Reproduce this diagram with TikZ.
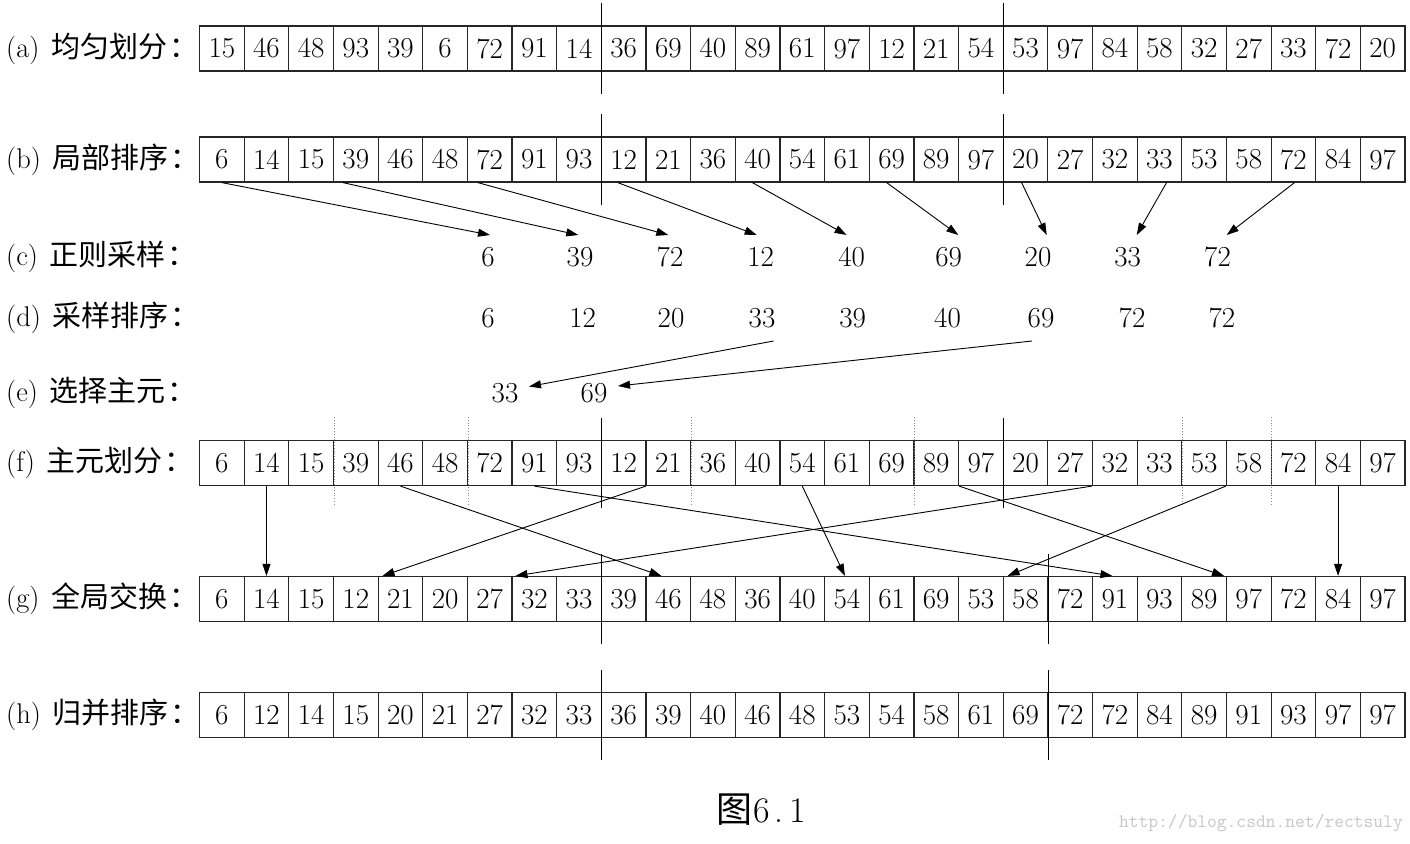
\documentclass[tikz,border=0pt]{standalone}
\usepackage{fontspec}
\newfontfamily\cjk{Noto Sans CJK SC}
\usetikzlibrary{arrows.meta}
\newcommand\mkrow[3]{\foreach \v [count=\i] in {#3} {\node[cellbox] (#1\i) at ({199.5+(\i-0.5)*44.65},#2) {\v};}}
\newcommand\lbltext[2]{(#1)\hspace{12pt}{\cjk\fontsize{29}{30}\selectfont #2\hspace{2pt}：}}
\begin{document}
\begin{tikzpicture}[x=1pt,y=-1pt,
  cellbox/.style={draw=black!85, line width=1.2pt, minimum width=44.65pt, minimum height=45pt, inner sep=0pt, font=\fontsize{29}{30}\selectfont},
  lab/.style={anchor=west, inner sep=0pt, font=\fontsize{28.5}{30}\selectfont},
  num/.style={inner sep=0pt, font=\fontsize{29}{30}\selectfont},
  arr/.style={-{Triangle[length=12pt,width=8pt]}, line width=0.9pt},
  divider/.style={line width=1pt},
  dots/.style={dotted, black!45, line width=0.8pt}]
\fill[white] (0,0) rectangle (1410,843);
\useasboundingbox (0,0) rectangle (1410,843);

% labels
\node[lab] (la) at (6,48.5) {\lbltext{a}{均匀划分}};
\node[lab] (lb) at (6,159.5) {\lbltext{b}{局部排序}};
\node[lab] (lc) at (6,257) {\lbltext{c}{正则采样}};
\node[lab] (ld) at (6,318) {\lbltext{d}{采样排序}};
\node[lab] (le) at (6,393) {\lbltext{e}{选择主元}};
\node[lab] (lf) at (6,463) {\lbltext{f}{主元划分}};
\node[lab] (lg) at (6,599) {\lbltext{g}{全局交换}};
\node[lab] (lh) at (6,715) {\lbltext{h}{归并排序}};

% rows of cells
\mkrow{a}{48.5}{15,46,48,93,39,6,72,91,14,36,69,40,89,61,97,12,21,54,53,97,84,58,32,27,33,72,20}
\mkrow{b}{159.5}{6,14,15,39,46,48,72,91,93,12,21,36,40,54,61,69,89,97,20,27,32,33,53,58,72,84,97}
\mkrow{f}{463}{6,14,15,39,46,48,72,91,93,12,21,36,40,54,61,69,89,97,20,27,32,33,53,58,72,84,97}
\mkrow{g}{599}{6,14,15,12,21,20,27,32,33,39,46,48,36,40,54,61,69,53,58,72,91,93,89,97,72,84,97}
\mkrow{h}{715}{6,12,14,15,20,21,27,32,33,36,39,40,46,48,53,54,58,61,69,72,72,84,89,91,93,97,97}

% sample texts
\foreach \v/\x [count=\i] in {6/488,39/580,72/670,12/760.7,40/851.6,69/948.6,20/1038,33/1127.7,72/1217.5}
  \node[num] (c\i) at (\x,257) {\v};
\foreach \v/\x [count=\i] in {6/488,12/582.6,20/671,33/762,39/852.6,40/947.5,69/1041,72/1132,72/1221.8}
  \node[num] (d\i) at (\x,318) {\v};
\node[num] (e1) at (505,393) {33};
\node[num] (e2) at (594,393) {69};

% dividers
\foreach \r in {a,b,f,h,g} \draw[divider] ([yshift=22pt]\r9.north east) -- ([yshift=-22pt]\r9.south east);
\foreach \r in {a,b,f} \draw[divider] ([yshift=22pt]\r18.north east) -- ([yshift=-22pt]\r18.south east);
\foreach \r in {g,h} \draw[divider] ([yshift=22pt]\r19.north east) -- ([yshift=-22pt]\r19.south east);
\foreach \k in {3,6,11,16,22,24} \draw[dots] ([yshift=23pt]f\k.north east) -- ([yshift=-18pt]f\k.south east);

% b -> c
\draw[arr] (b1.south) -- ([shift={(2,-22)}]c1.center);
\draw[arr] ([xshift=10pt]b4.south west) -- ([shift={(-1.7,-22)}]c2.center);
\draw[arr] ([xshift=11pt]b7.south west) -- ([shift={(-1.7,-22)}]c3.center);
\draw[arr] ([xshift=17pt]b10.south west) -- ([shift={(-4,-22)}]c4.center);
\draw[arr] ([xshift=17.6pt]b13.south west) -- ([shift={(-5,-22)}]c5.center);
\draw[arr] ([xshift=18pt]b16.south west) -- ([shift={(9.7,-22)}]c6.center);
\draw[arr] ([xshift=19pt]b19.south west) -- ([shift={(8.7,-22)}]c7.center);
\draw[arr] ([xshift=30pt]b22.south west) -- ([shift={(9,-22)}]c8.center);
\draw[arr] ([xshift=24pt]b25.south west) -- ([shift={(9.2,-22)}]c9.center);

% d -> e
\draw[arr] ([shift={(11.6,23)}]d4.center) -- ([shift={(24,-6.5)}]e1.center);
\draw[arr] ([shift={(-9,23)}]d7.center) -- ([shift={(24,-7)}]e2.center);

% f -> g
\draw[arr] (f2.south) -- (g2.north);
\draw[arr] ([xshift=0.4pt]f11.south west) -- ([xshift=5pt]g5.north west);
\draw[arr] (f5.south) -- ([xshift=16pt]g11.north west);
\draw[arr] (f8.south) -- ([xshift=20.5pt]g21.north west);
\draw[arr] (f21.south west) -- ([xshift=4pt]g8.north west);
\draw[arr] (f14.south) -- ([xshift=-2pt]g15.north);
\draw[arr] (f17.south east) -- ([xshift=-3pt]g23.north east);
\draw[arr] (f24.south west) -- ([xshift=5pt]g19.north west);
\draw[arr] (f26.south) -- (g26.north);

% caption and watermark
\node[font=\fontsize{36}{40}\selectfont, inner sep=0pt] (cap) at (761.5,810) {{\cjk 图}\makebox[18pt]{6}\makebox[18pt]{.}\makebox[18pt]{1}};
\node[text=black!22, font=\ttfamily\fontsize{19}{20}\selectfont, anchor=east, inner sep=0pt] (wm) at (1403,823) {http://blog.csdn.net/rectsuly};
\end{tikzpicture}
\end{document}
